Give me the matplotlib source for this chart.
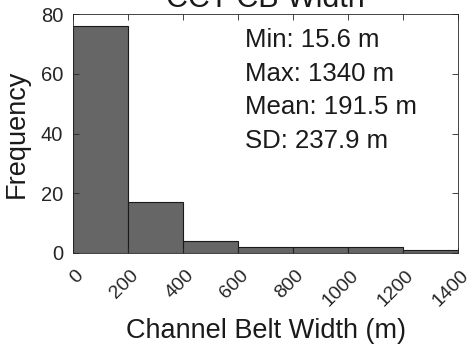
import matplotlib
matplotlib.use("Agg")
import matplotlib.pyplot as plt
import matplotlib.transforms as mtransforms
import numpy as np

plt.rcParams['font.family'] = ['Liberation Sans', 'DejaVu Sans']

bin_edges = [0, 200, 400, 600, 800, 1000, 1200, 1400]
counts = [76, 17, 4, 2, 2, 2, 1]
xticks = [0, 200, 400, 600, 800, 1000, 1200, 1400]
yticks = [0, 20, 40, 60, 80]
stats_lines = ["Min: 15.6 m", "Max: 1340 m", "Mean: 191.5 m", "SD: 237.9 m"]
title = "CCT CB Width"

fig = plt.figure(figsize=(4.73, 3.48), dpi=100)
W, H = 473, 348
ax = fig.add_axes([73 / W, 1 - 253 / H, (458 - 73) / W, (253 - 14) / H])

widths = np.diff(bin_edges)
ax.bar(bin_edges[:-1], counts, width=widths, align='edge',
       color='#666666', edgecolor='#1a1a1a', linewidth=0.8)

ax.set_xlim(0, 1400)
ax.set_ylim(0, 80)
ax.set_xticks(xticks)
ax.set_xticklabels([str(t) for t in xticks], rotation=45, ha='right',
                   va='top', rotation_mode='anchor')
ax.set_yticks(yticks)
ax.tick_params(axis='both', direction='in', length=4, width=0.6,
               top=True, right=True, labelsize=14.5, colors='#262626',
               labelcolor='#262626')
ax.tick_params(axis='x', labelsize=14, pad=10)
ax.tick_params(axis='y', pad=7)
offset = mtransforms.ScaledTranslation(2 / 100, 0, fig.dpi_scale_trans)
for lab in ax.get_xticklabels():
    lab.set_transform(lab.get_transform() + offset)
for s in ax.spines.values():
    s.set_color('#262626')
    s.set_linewidth(0.6)

ax.set_xlabel("Channel Belt Width (m)", fontsize=19.5, color='#1a1a1a')
ax.xaxis.set_label_coords(0.5, (253 - 318) / 239)
ax.set_ylabel("Frequency", fontsize=19.5, color='#1a1a1a')
ax.yaxis.set_label_coords((30 - 73) / 385, 0.5)
ax.set_title(title, fontsize=22, color='#1a1a1a', pad=5)

for i, line in enumerate(stats_lines):
    fig.text(245 / W, 1 - (47 + 33.7 * i) / H, line, fontsize=18.5,
             color='#1a1a1a', ha='left', va='baseline')

fig.savefig("out.png", dpi=100)
